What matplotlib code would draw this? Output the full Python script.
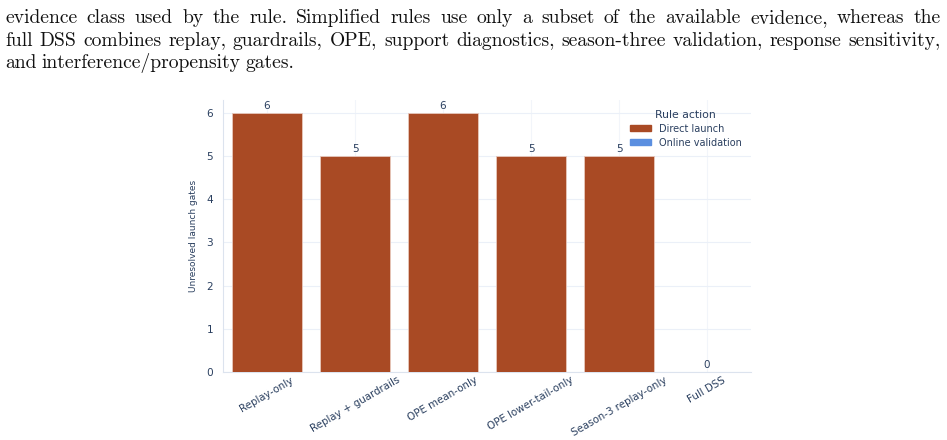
import matplotlib
matplotlib.use("Agg")
import matplotlib.pyplot as plt
from matplotlib.patches import Patch

# Data
rules = ["Replay-only", "Replay + guardrails", "OPE mean-only",
         "OPE lower-tail-only", "Season-3 replay-only", "Full DSS"]
gates = [6, 5, 6, 5, 5, 0]
actions = ["Direct launch", "Direct launch", "Direct launch",
           "Direct launch", "Direct launch", "Online validation"]
action_colors = {"Direct launch": "#A94A24", "Online validation": "#5B8FE0"}

para_lines = [
    "evidence class used by the rule.  Simplified rules use only a subset of the available evidence, whereas the",
    "full DSS combines replay, guardrails, OPE, support diagnostics, season-three validation, response sensitivity,",
    "and interference/propensity gates.",
]

W, H = 947, 440
fig = plt.figure(figsize=(W / 100, H / 100), dpi=100)

# paragraph text above the chart (justified lines)
renderer = fig.canvas.get_renderer()
x_left, x_right = 5 / W, 941 / W
baselines = [23, 45.5, 68]
for i, line in enumerate(para_lines):
    y = 1 - baselines[i] / H
    words = line.split()
    texts = [fig.text(0, y, w, fontsize=14.1, family="cmr10", va="baseline",
                      color="#111111") for w in words]
    widths = [t.get_window_extent(renderer).width / W for t in texts]
    if i < len(para_lines) - 1:
        gap = (x_right - x_left - sum(widths)) / (len(words) - 1)
    else:
        gap = 5.0 / W
    x = x_left
    for t, w in zip(texts, widths):
        t.set_x(x)
        x += w + gap

# chart
ax = fig.add_axes([223 / W, 68 / H, 528 / W, 272 / H])
colors = [action_colors[a] for a in actions]
ax.bar(range(len(rules)), gates, width=0.795, color=colors,
       edgecolor="#E8C8BC", linewidth=0.6, zorder=3)
for i, v in enumerate(gates):
    ax.text(i, v + 0.05, str(v), ha="center", va="bottom", fontsize=7.5,
            color="#2a3f5f")

ax.set_xlim(-0.5, len(rules) - 0.5)
ax.set_ylim(0, 6.3)
ax.set_yticks(range(0, 7))
ax.set_xticks(range(len(rules)))
ax.set_xticklabels(rules, rotation=30, ha="center", va="top",
                   fontsize=7.4, color="#2a3f5f")
ax.tick_params(axis="y", labelsize=7.6, labelcolor="#2a3f5f", length=0, pad=7)
ax.tick_params(axis="x", length=0, pad=2)
ax.set_ylabel("Unresolved launch gates", fontsize=6.5, color="#2a3f5f",
              labelpad=6)
ax.grid(axis="y", color="#EBF0F8", linewidth=0.8, zorder=0)
ax.grid(axis="x", color="#F2F5FA", linewidth=0.8, zorder=0)
for side in ["top", "right"]:
    ax.spines[side].set_visible(False)
for side in ["left", "bottom"]:
    ax.spines[side].set_color("#DCE3EE")
    ax.spines[side].set_linewidth(0.8)

handles = [Patch(color=action_colors[k], label=k) for k in action_colors]
leg = fig.legend(handles=handles, title="Rule action", loc="upper left",
                 bbox_to_anchor=(621 / W, 1 - 101 / H), frameon=False,
                 fontsize=7, title_fontsize=7.8, handlelength=2.2,
                 handleheight=0.6, labelspacing=0.4, handletextpad=0.8)
for t in leg.get_texts():
    t.set_color("#2a3f5f")
leg.get_title().set_color("#2a3f5f")

fig.savefig("out.png", dpi=100)
